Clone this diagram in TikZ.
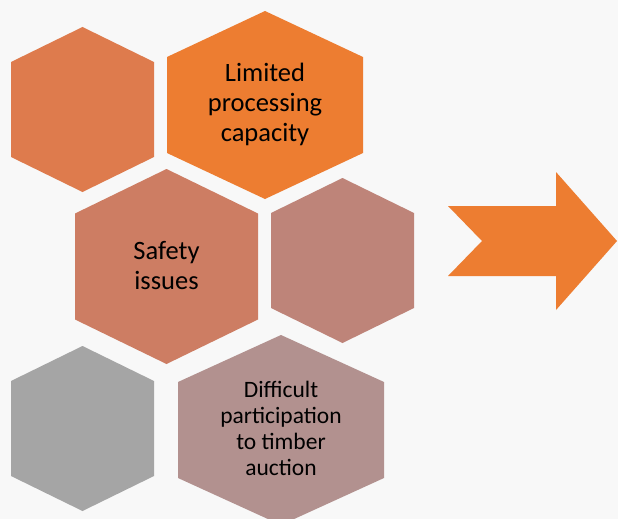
\documentclass[tikz,border=0pt]{standalone}
\usepackage{fontspec}
\setmainfont{Carlito}
\usepackage{xcolor}
\usepackage{tikz}
\usetikzlibrary{positioning}

\definecolor{hexrust}{RGB}{222,123,77}
\definecolor{hexorange}{RGB}{237,125,49}
\definecolor{hexsalmon}{RGB}{205,125,99}
\definecolor{hexmauve}{RGB}{190,132,121}
\definecolor{hexgray}{RGB}{165,165,165}
\definecolor{hexrose}{RGB}{178,145,143}
\definecolor{bgpaper}{RGB}{248,248,248}

% hexagon: centre x, top y, half width, slant drop, height, colour
\newcommand{\hexcell}[6]{%
  \fill[#6] (#1,#2) -- ++(#3,#4) -- ++(0,#5-2*#4) -- ++(-#3,#4)
    -- ++(-#3,-#4) -- ++(0,-#5+2*#4) -- cycle;}

\begin{document}
\begin{tikzpicture}[x=1pt, y=-1pt,
            hexlabel/.style={align=center, inner sep=0pt, text=black,
                font=\fontsize{26.5}{30}\selectfont},
            smalllabel/.style={hexlabel, font=\fontsize{23.5}{26}\selectfont}]

            \fill[bgpaper] (0,0) rectangle (618,519);
            \useasboundingbox (0,0) rectangle (618,519);
            \clip (0,0) rectangle (618,519);

            % honeycomb
            \hexcell{82.5}{27}{71.5}{35}{165}{hexrust}
            \hexcell{265}{11}{98}{46}{188}{hexorange}
            \hexcell{166.5}{169}{91.5}{44.5}{195}{hexsalmon}
            \hexcell{342.5}{178}{71.5}{35}{165}{hexmauve}
            \hexcell{82.5}{346}{71.5}{35}{165}{hexgray}
            \hexcell{281}{335}{103}{47}{190}{hexrose}

            \node[hexlabel] (capacity) at (265,104) {Limited\\processing\\capacity};
            \node[hexlabel] (safety) at (166.5,266) {Safety\\issues};
            \node[smalllabel] (auction) at (281,428) {Difficult\\participation\\to timber\\auction};

            % big arrow
            \fill[hexorange] (448,206) -- (556,206) -- (556,172) -- (617,241)
                -- (556,310) -- (556,276) -- (448,276) -- (482,241) -- cycle;
\end{tikzpicture}
\end{document}
